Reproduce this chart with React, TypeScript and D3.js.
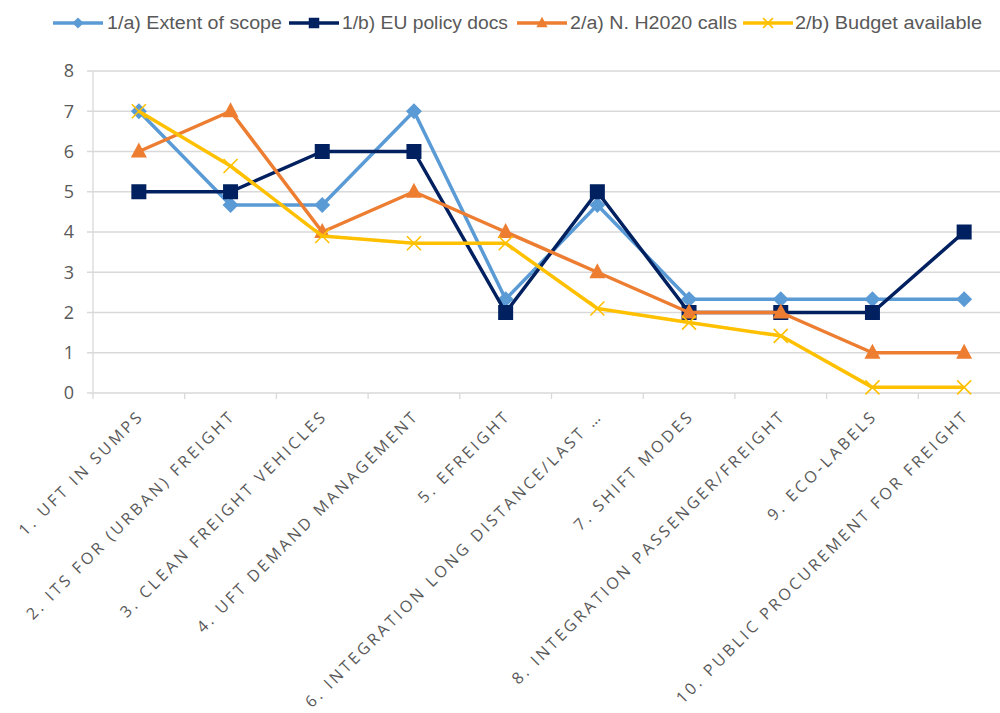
import React, { useEffect, useRef } from "react";
import * as d3 from "d3";

const categories = [
  "1. UFT IN SUMPS",
  "2. ITS FOR (URBAN) FREIGHT",
  "3. CLEAN FREIGHT VEHICLES",
  "4. UFT DEMAND MANAGEMENT",
  "5. EFREIGHT",
  "6. INTEGRATION LONG DISTANCE/LAST …",
  "7. SHIFT MODES",
  "8. INTEGRATION PASSENGER/FREIGHT",
  "9. ECO-LABELS",
  "10. PUBLIC PROCUREMENT FOR FREIGHT",
];

const extentOfScope = [7, 4.67, 4.67, 7, 2.33, 4.67, 2.33, 2.33, 2.33, 2.33];
const euPolicyDocs = [5, 5, 6, 6, 2, 5, 2, 2, 2, 4];
const h2020Calls = [6, 7, 4, 5, 4, 3, 2, 2, 1, 1];
const budgetAvailable = [7, 5.64, 3.9, 3.72, 3.72, 2.1, 1.75, 1.42, 0.14, 0.14];

const yTicks = [0, 1, 2, 3, 4, 5, 6, 7, 8];

const seriesNames = [
  "1/a) Extent of scope",
  "1/b) EU policy docs",
  "2/a) N. H2020 calls",
  "2/b) Budget available",
];
const seriesColors = ["#5B9BD5", "#002060", "#ED7D31", "#FFC000"];
const seriesMarkers = ["diamond", "square", "triangle", "x"];

export default function App() {
  const ref = useRef<SVGSVGElement | null>(null);

  useEffect(() => {
    const svg = d3.select(ref.current);
    svg.selectAll("*").remove();

    const left = 93;
    const right = 1010;
    const top = 71;
    const bottom = 393;

    const x = d3.scaleBand<string>().domain(categories).range([left, right]);
    const y = d3.scaleLinear().domain([0, 8]).range([bottom, top]);

    const g = svg.append("g");

    g.selectAll("line.grid")
      .data(yTicks)
      .join("line")
      .attr("x1", left - 6)
      .attr("x2", right)
      .attr("y1", (d) => y(d))
      .attr("y2", (d) => y(d))
      .attr("stroke", "#D9D9D9")
      .attr("stroke-width", 1.3);

    g.append("line")
      .attr("x1", left)
      .attr("x2", left)
      .attr("y1", top)
      .attr("y2", bottom)
      .attr("stroke", "#D9D9D9")
      .attr("stroke-width", 1.3);

    const bounds = categories.map((c) => x(c)!).concat([right]);
    g.selectAll("line.xt")
      .data(bounds)
      .join("line")
      .attr("x1", (d) => d)
      .attr("x2", (d) => d)
      .attr("y1", bottom)
      .attr("y2", bottom + 6)
      .attr("stroke", "#D9D9D9")
      .attr("stroke-width", 1.3);

    g.selectAll("text.yl")
      .data(yTicks)
      .join("text")
      .attr("x", 74)
      .attr("y", (d) => y(d))
      .attr("dy", "0.36em")
      .attr("text-anchor", "end")
      .attr("font-family", "'Open Sans', sans-serif")
      .attr("font-size", 18)
      .attr("fill", "#595959")
      .text((d) => d);

    g.selectAll("text.xl")
      .data(categories)
      .join("text")
      .attr(
        "transform",
        (d) => `translate(${x(d)! + x.bandwidth() / 2 + 6},${417}) rotate(-45)`
      )
      .attr("text-anchor", "end")
      .attr("font-family", "'Open Sans', sans-serif")
      .attr("font-size", 16)
      .attr("letter-spacing", 3.0)
      .attr("fill", "#595959")
      .text((d) => d);

    const allSeries = [extentOfScope, euPolicyDocs, h2020Calls, budgetAvailable];
    const line = d3
      .line<number>()
      .x((_, i) => x(categories[i])! + x.bandwidth() / 2)
      .y((d) => y(d));

    const drawMarker = (sel: any, kind: string, color: string, cx: number, cy: number, s: number) => {
      if (kind === "diamond") {
        const r = 8 * s;
        sel.append("path")
          .attr("d", `M${cx},${cy - r}L${cx + r},${cy}L${cx},${cy + r}L${cx - r},${cy}Z`)
          .attr("fill", color);
      } else if (kind === "square") {
        const r = 7.5 * s;
        sel.append("rect")
          .attr("x", cx - r)
          .attr("y", cy - r)
          .attr("width", 2 * r)
          .attr("height", 2 * r)
          .attr("fill", color);
      } else if (kind === "triangle") {
        sel.append("path")
          .attr("d", `M${cx},${cy - 9 * s}L${cx + 8 * s},${cy + 6 * s}L${cx - 8 * s},${cy + 6 * s}Z`)
          .attr("fill", color);
      } else {
        const r = 7 * s;
        sel.append("path")
          .attr("d", `M${cx - r},${cy - r}L${cx + r},${cy + r}M${cx - r},${cy + r}L${cx + r},${cy - r}`)
          .attr("stroke", color)
          .attr("stroke-width", 1.6)
          .attr("fill", "none");
      }
    };

    allSeries.forEach((vals, si) => {
      const sg = g.append("g");
      sg.append("path")
        .attr("d", line(vals))
        .attr("fill", "none")
        .attr("stroke", seriesColors[si])
        .attr("stroke-width", 3.5)
        .attr("stroke-linejoin", "round");
      vals.forEach((v, i) => {
        drawMarker(sg, seriesMarkers[si], seriesColors[si], x(categories[i])! + x.bandwidth() / 2, y(v), 1);
      });
    });

    const legLine = [53, 289, 517, 743];
    const legText = [107, 342, 570, 795];
    const legW = [175, 166, 167, 187];
    seriesNames.forEach((name, si) => {
      const lg = g.append("g");
      const lx = legLine[si];
      const ly = 23;
      lg.append("line")
        .attr("x1", lx)
        .attr("x2", lx + 50)
        .attr("y1", ly)
        .attr("y2", ly)
        .attr("stroke", seriesColors[si])
        .attr("stroke-width", 3.5);
      drawMarker(lg, seriesMarkers[si], seriesColors[si], lx + 25, ly, 0.7);
      lg.append("text")
        .attr("x", legText[si])
        .attr("y", ly)
        .attr("dy", "0.36em")
        .attr("font-family", "'Liberation Sans', sans-serif")
        .attr("font-size", 18)
        .attr("fill", "#595959")
        .attr("textLength", legW[si])
        .attr("lengthAdjust", "spacingAndGlyphs")
        .text(name);
    });
  }, []);

  return (
    <div style={{ position: "absolute", left: 0, top: 0 }}>
      <svg ref={ref} width={1000} height={713} style={{ display: "block", background: "#fff" }} />
    </div>
  );
}
